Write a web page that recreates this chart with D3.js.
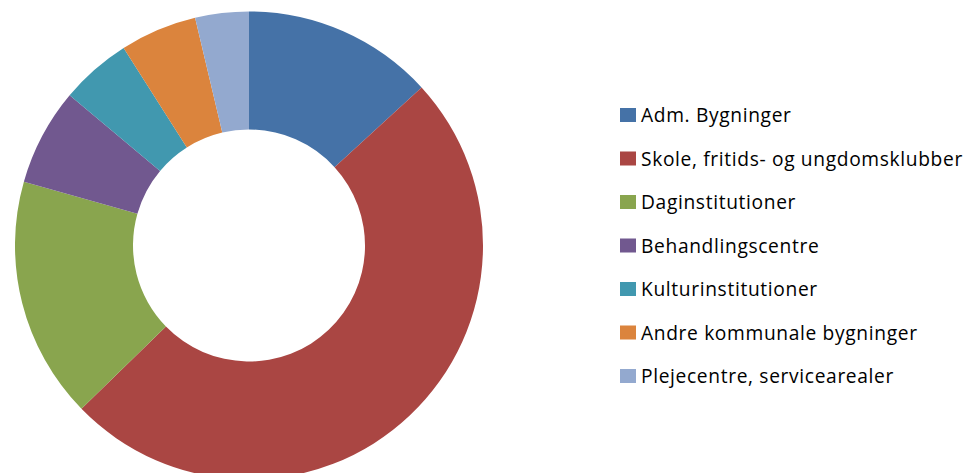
<!DOCTYPE html>
<html><head><meta charset="utf-8">
<script src="https://cdn.jsdelivr.net/npm/d3@7"></script>
<style>body{margin:0;background:#fff}svg{display:block}</style>
</head><body>
<svg id="chart" width="969" height="473"></svg>
<script>
const categories = ["Adm. Bygninger","Skole, fritids- og ungdomsklubber","Daginstitutioner","Behandlingscentre","Kulturinstitutioner","Andre kommunale bygninger","Plejecentre, servicearealer"];
const values = [13.2, 49.5, 16.7, 6.7, 4.9, 5.3, 3.7];
const colors = ["#4572A7","#AA4643","#89A54E","#71588F","#4198AF","#DB843D","#93A9CF"];

const svg = d3.select("#chart");
const cx = 249, cy = 245.5, rOuter = 234, rInner = 116;
const pie = d3.pie().sort(null).value(d => d)(values);
const arc = d3.arc().innerRadius(rInner).outerRadius(rOuter);
const g = svg.append("g").attr("transform", `translate(${cx},${cy})`);
g.selectAll("path").data(pie).join("path")
  .attr("d", arc).attr("fill", (d,i) => colors[i]);

const legend = svg.append("g").attr("transform", "translate(620,115)");
const rowH = 43.5;
const items = legend.selectAll("g").data(categories).join("g")
  .attr("transform", (d,i) => `translate(0,${i*rowH})`);
items.append("rect").attr("x",0).attr("y",-7).attr("width",16).attr("height",14)
  .attr("fill",(d,i)=>colors[i]);
items.append("text").attr("x",21).attr("y",7)
  .attr("font-family","'Open Sans', 'Liberation Sans', sans-serif").attr("font-size",19.2)
  .style("font-variant-ligatures","none").style("letter-spacing","0.65px")
  .attr("fill","#000").text(d=>d);
</script>
</body></html>
